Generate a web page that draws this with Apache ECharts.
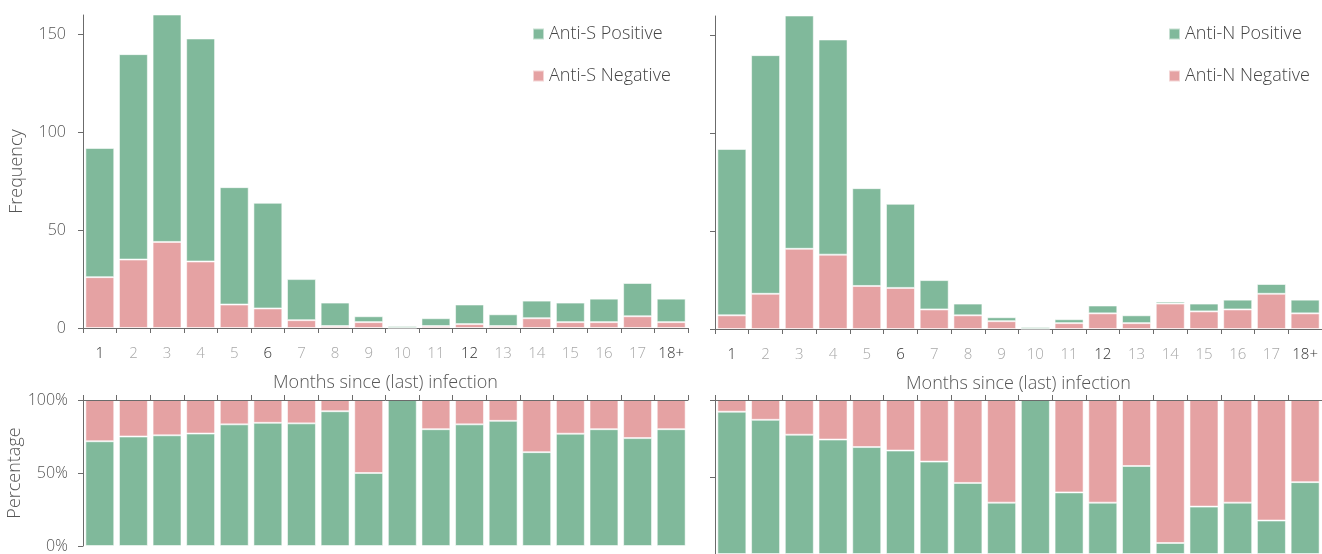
<!DOCTYPE html>
<html>
<head>
<meta charset="utf-8">
<title>Antibody status by months since infection</title>
<script src="https://cdn.jsdelivr.net/npm/echarts@6/dist/echarts.min.js"></script>
<style>
  html, body { margin: 0; padding: 0; background: #ffffff; }
  #chart { width: 1322px; height: 554px; }
</style>
</head>
<body>
<div id="chart"></div>
<script>
// Months since (last) infection
const months = ['1', '2', '3', '4', '5', '6', '7', '8', '9', '10', '11', '12', '13', '14', '15', '16', '17', '18+'];
const emphasisedMonths = ['1', '6', '12', '18+'];

// Counts per month, split by anti-S serostatus
const antiSPositive = [66, 105, 138, 114, 60, 54, 21, 12, 3, 1, 4, 10, 6, 9, 10, 12, 17, 12];
const antiSNegative = [26, 35, 44, 34, 12, 10, 4, 1, 3, 0, 1, 2, 1, 5, 3, 3, 6, 3];

// Counts per month, split by anti-N serostatus
const antiNPositive = [85, 122, 141, 110, 50, 43, 15, 6, 2, 1, 2, 4, 4, 1, 4, 5, 5, 7];
const antiNNegative = [7, 18, 41, 38, 22, 21, 10, 7, 4, 0, 3, 8, 3, 13, 9, 10, 18, 8];

// Axis ticks
const freqTicks = [0, 50, 100, 150];
const pctTicks = [0, 50, 100];

const GREEN = '#80b99b';
const PINK = '#e5a2a3';
const AXIS = '#6b6b6b';
const FONT = '"Open Sans", Lato, sans-serif';

function share(part, other) {
  return part.map((v, i) => {
    const t = v + other[i];
    return t > 0 ? (v / t) * 100 : 0;
  });
}

const gridsGeom = [
  { left: 83, top: 15, width: 605, height: 313 },   // anti-S counts
  { left: 83, top: 400, width: 605, height: 150 },  // anti-S percentages
  { left: 715, top: 16, width: 612, height: 313 },  // anti-N counts
  { left: 715, top: 400, width: 612, height: 157 }  // anti-N percentages
];

const titleText = { fontSize: 18, fontFamily: FONT, fontWeight: 300, color: '#555555' };

function countXAxis(gridIndex) {
  return {
    type: 'category', gridIndex, data: months, position: 'bottom',
    axisLine: { onZero: false, lineStyle: { color: AXIS, width: 1 } },
    axisTick: { show: true, length: 5, lineStyle: { color: AXIS } },
    axisLabel: {
      interval: 0, margin: 18, fontSize: 15, fontFamily: FONT, fontWeight: 300,
      color: (val) => emphasisedMonths.includes(val) ? '#333333' : '#a8a8a8'
    },
    name: 'Months since (last) infection', nameLocation: 'middle', nameGap: 46,
    nameTextStyle: titleText
  };
}

function pctXAxis(gridIndex) {
  return {
    type: 'category', gridIndex, data: months, position: 'top', z: 10,
    axisLine: { onZero: false, lineStyle: { color: AXIS, width: 1 } },
    axisTick: { show: true, inside: false, length: 5, interval: 0, lineStyle: { color: AXIS } },
    axisLabel: { show: false }
  };
}

function countYAxis(gridIndex, withLabels) {
  return {
    type: 'value', gridIndex, min: 0, max: 160,
    axisLine: { show: true, lineStyle: { color: AXIS, width: 1 } },
    axisTick: { show: true, length: 5, customValues: freqTicks, lineStyle: { color: AXIS } },
    axisLabel: {
      show: withLabels, customValues: freqTicks, margin: 17,
      fontSize: 16, fontFamily: FONT, fontWeight: 300, color: '#555555'
    },
    splitLine: { show: false },
    name: withLabels ? 'Frequency' : '', nameLocation: 'middle', nameGap: 57,
    nameTextStyle: titleText
  };
}

function pctYAxis(gridIndex, withLabels) {
  return {
    type: 'value', gridIndex, min: 0, max: 100,
    axisLine: { show: true, lineStyle: { color: AXIS, width: 1 } },
    axisTick: { show: true, length: 5, customValues: pctTicks, lineStyle: { color: AXIS } },
    axisLabel: {
      show: withLabels, customValues: pctTicks, formatter: '{value}%', margin: 15,
      fontSize: 16, fontFamily: FONT, fontWeight: 300, color: '#555555'
    },
    splitLine: { show: false },
    name: withLabels ? 'Percentage' : '', nameLocation: 'middle', nameGap: 56,
    nameTextStyle: titleText
  };
}

function barSeries(name, data, axisIndex, stack, color) {
  return {
    type: 'bar', name, data, stack,
    xAxisIndex: axisIndex, yAxisIndex: axisIndex,
    barCategoryGap: '14%', clip: true,
    itemStyle: { color, borderColor: 'rgba(255,255,255,0.55)', borderWidth: 1 },
    emphasis: { disabled: true },
    silent: true
  };
}

function legendFor(left, names) {
  return {
    left, top: 20, orient: 'vertical', itemGap: 24,
    itemWidth: 11, itemHeight: 11, icon: 'rect',
    data: names,
    textStyle: { fontSize: 18, fontFamily: FONT, fontWeight: 300, color: '#444444' },
    selectedMode: false
  };
}

const option = {
  animation: false,
  backgroundColor: '#ffffff',
  grid: gridsGeom,
  legend: [
    legendFor(527, ['Anti-S Positive', 'Anti-S Negative']),
    legendFor(1163, ['Anti-N Positive', 'Anti-N Negative'])
  ],
  xAxis: [countXAxis(0), pctXAxis(1), countXAxis(2), pctXAxis(3)],
  yAxis: [countYAxis(0, true), pctYAxis(1, true), countYAxis(2, false), pctYAxis(3, false)],
  series: [
    barSeries('Anti-S Negative', antiSNegative, 0, 'sCount', PINK),
    barSeries('Anti-S Positive', antiSPositive, 0, 'sCount', GREEN),
    barSeries('Anti-S Positive', share(antiSPositive, antiSNegative), 1, 'sPct', GREEN),
    barSeries('Anti-S Negative', share(antiSNegative, antiSPositive), 1, 'sPct', PINK),
    barSeries('Anti-N Negative', antiNNegative, 2, 'nCount', PINK),
    barSeries('Anti-N Positive', antiNPositive, 2, 'nCount', GREEN),
    barSeries('Anti-N Positive', share(antiNPositive, antiNNegative), 3, 'nPct', GREEN),
    barSeries('Anti-N Negative', share(antiNNegative, antiNPositive), 3, 'nPct', PINK)
  ]
};

const chart = echarts.init(document.getElementById('chart'), null, { renderer: 'canvas' });
chart.setOption(option);
</script>
</body>
</html>
